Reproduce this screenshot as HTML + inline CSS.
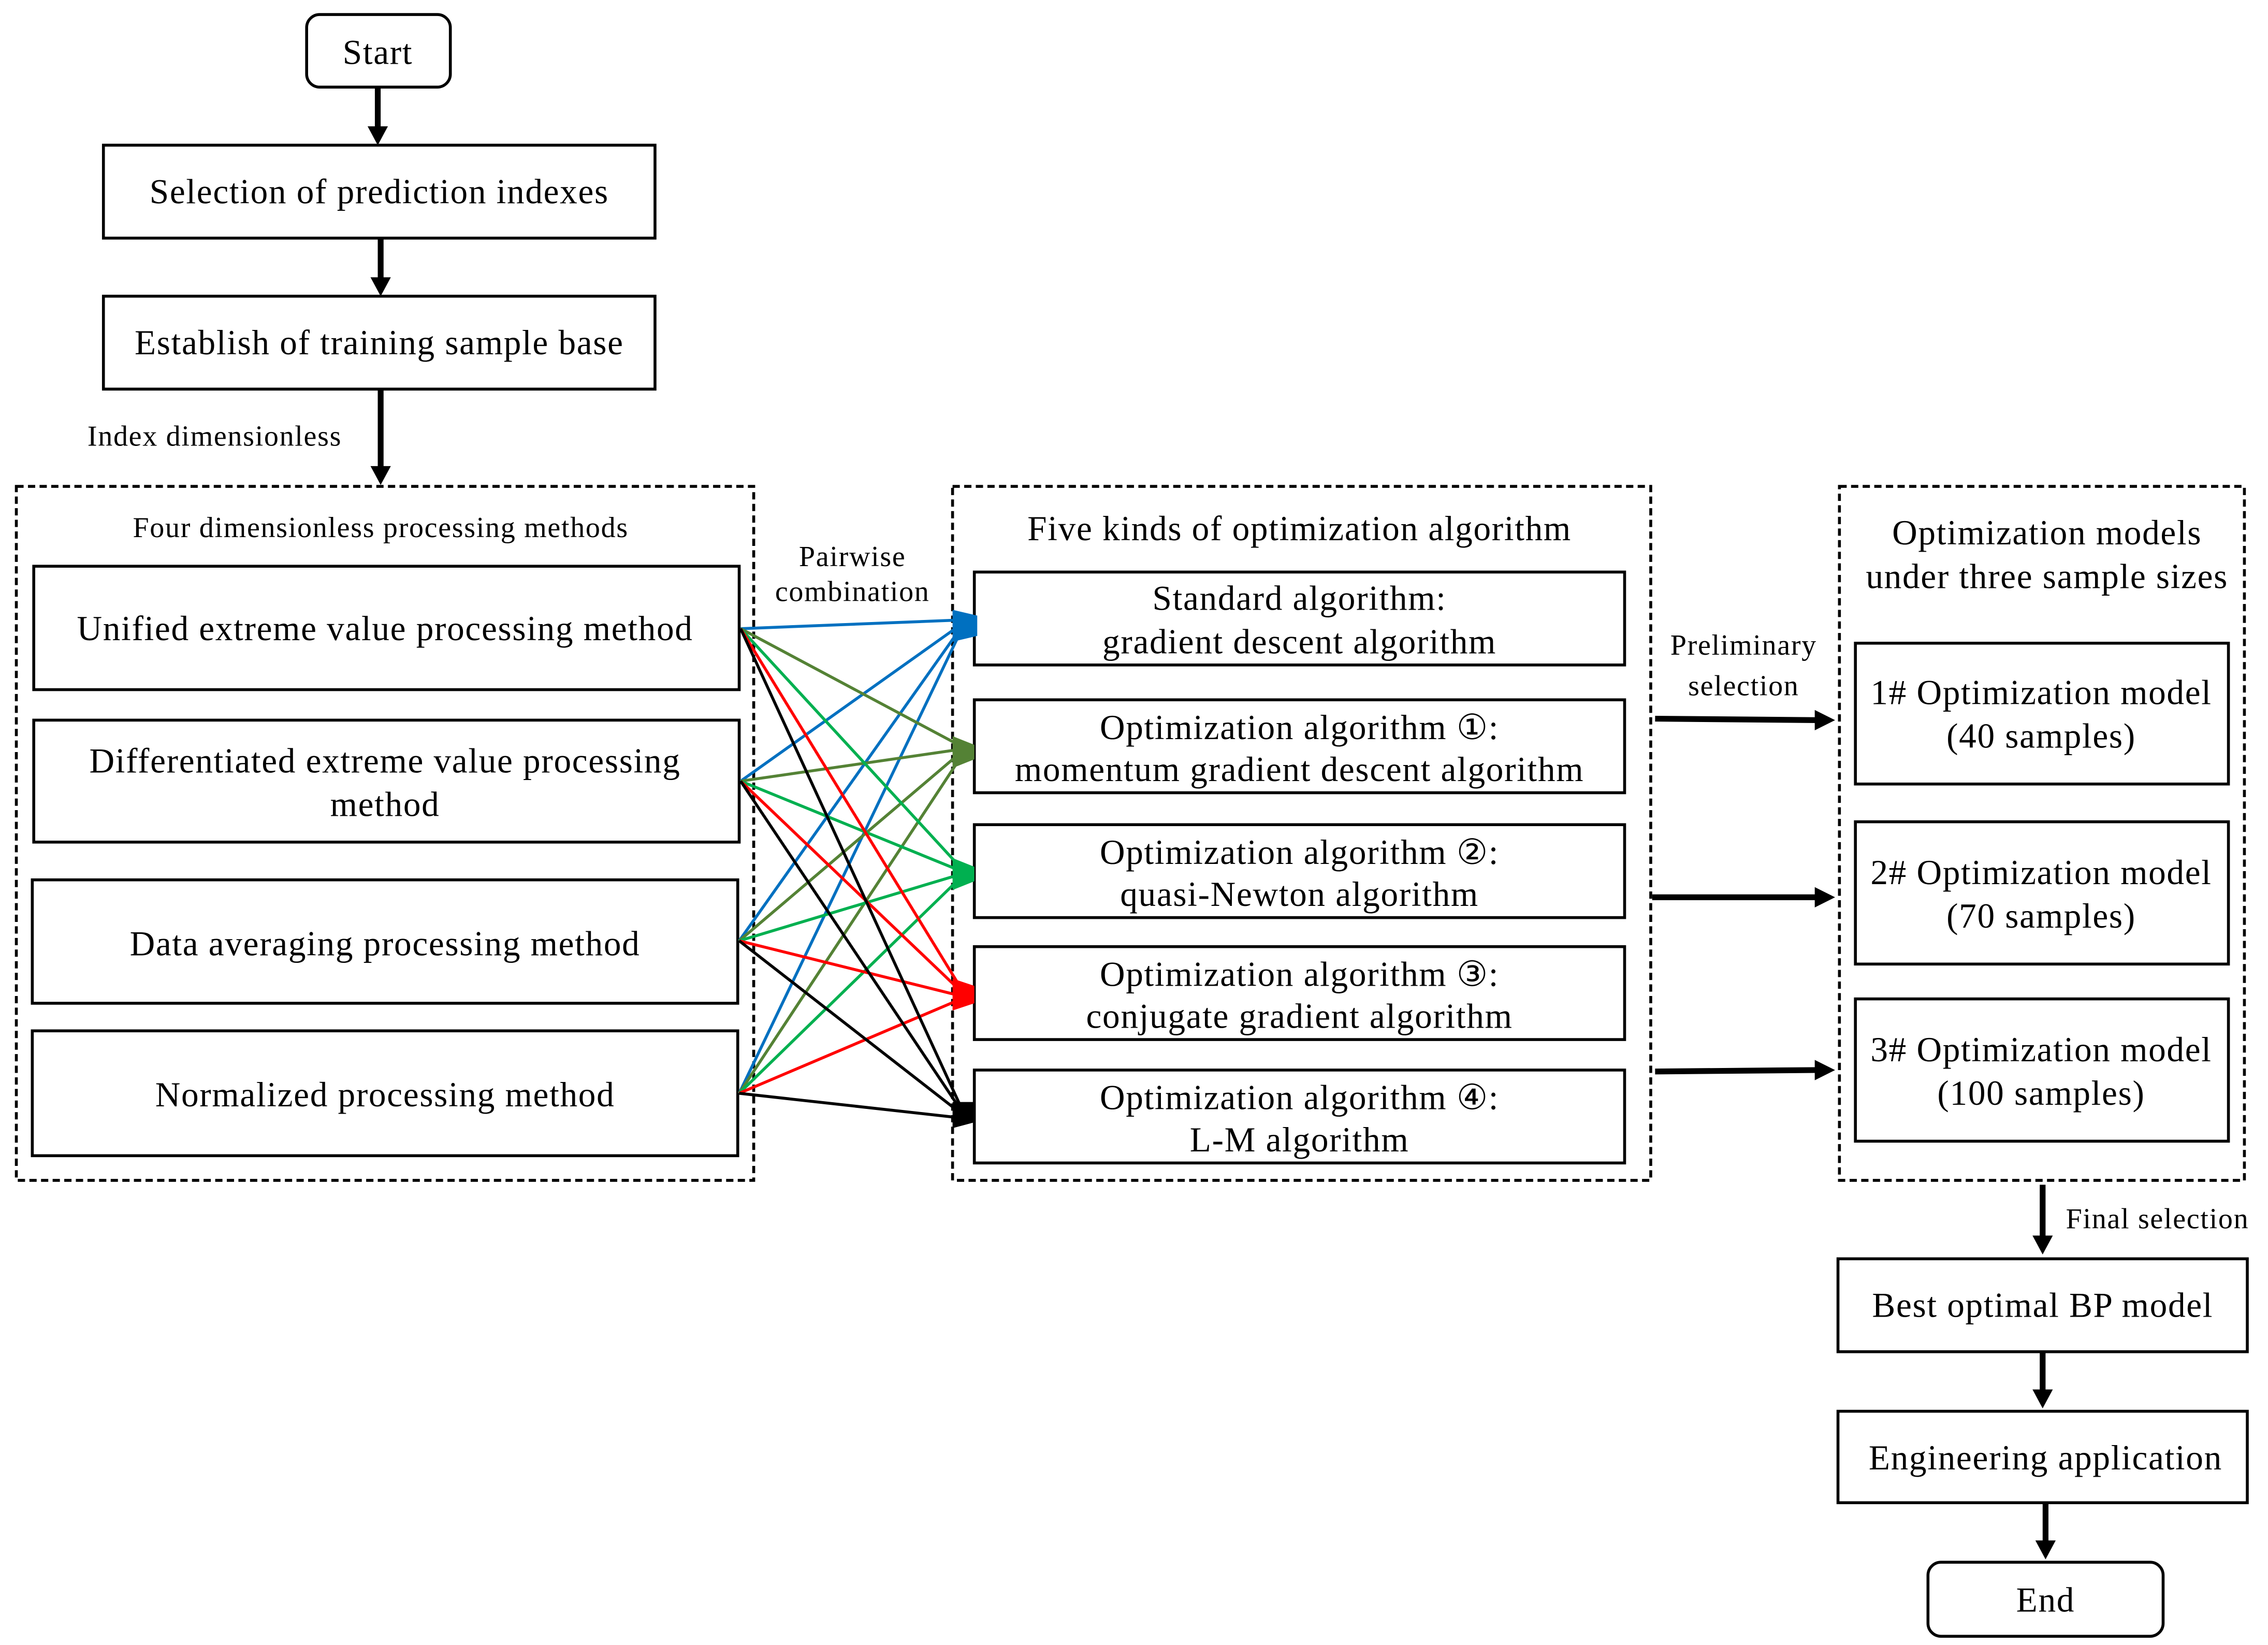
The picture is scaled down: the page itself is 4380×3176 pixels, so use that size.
<!DOCTYPE html>
<html><head><meta charset="utf-8"><style>html,body{margin:0;padding:0;background:#fff}svg{display:block}</style></head>
<body>
<svg xmlns="http://www.w3.org/2000/svg" width="4380" height="3176" viewBox="0 0 1562 1133" font-family="'Liberation Serif', serif">
<g fill="none" stroke="#000" stroke-width="2">
<rect x="211" y="10" width="99" height="50" rx="9"/>
<rect x="71" y="100" width="380" height="64"/>
<rect x="71" y="204" width="380" height="64"/>
<rect x="23" y="390" width="486" height="85"/>
<rect x="23" y="496" width="486" height="84"/>
<rect x="22" y="606" width="486" height="85"/>
<rect x="22" y="710" width="486" height="86"/>
<rect x="671" y="394" width="448" height="64"/>
<rect x="671" y="482" width="448" height="64"/>
<rect x="671" y="568" width="448" height="64"/>
<rect x="671" y="652" width="448" height="64"/>
<rect x="671" y="737" width="448" height="64"/>
<rect x="1278" y="443" width="257" height="97"/>
<rect x="1278" y="566" width="257" height="98"/>
<rect x="1278" y="688" width="257" height="98"/>
<rect x="1266" y="867" width="282" height="64"/>
<rect x="1266" y="972" width="282" height="63"/>
<rect x="1328" y="1076" width="162" height="51" rx="9"/>
</g>
<g fill="none" stroke="#000" stroke-width="2" stroke-dasharray="5,3">
<rect x="11" y="335" width="508" height="478"/>
<rect x="656" y="335" width="481" height="478"/>
<rect x="1267" y="335" width="279" height="478"/>
</g>
<g stroke="#000" stroke-width="4">
<line x1="260" y1="60" x2="260" y2="88"/>
<line x1="262" y1="164" x2="262" y2="192"/>
<line x1="262" y1="268" x2="262" y2="322"/>
<line x1="1140" y1="495" x2="1252" y2="496"/>
<line x1="1138" y1="618" x2="1252" y2="618"/>
<line x1="1140" y1="738" x2="1252" y2="737"/>
<line x1="1407" y1="816" x2="1407" y2="852"/>
<line x1="1407" y1="931" x2="1407" y2="958"/>
<line x1="1409" y1="1035" x2="1409" y2="1062"/>
</g>
<g fill="#000">
<path d="M253,87 L267,87 L260,100 z"/>
<path d="M255,191 L269,191 L262,204 z"/>
<path d="M255,321 L269,321 L262,334 z"/>
<path d="M1250,489 L1264,496 L1250,503 z"/>
<path d="M1250,611 L1264,618 L1250,625 z"/>
<path d="M1250,730 L1264,737 L1250,744 z"/>
<path d="M1400,851 L1414,851 L1407,864 z"/>
<path d="M1400,957 L1414,957 L1407,970 z"/>
<path d="M1402,1061 L1416,1061 L1409,1074 z"/>
</g>
<g stroke-width="2" fill="none">
<g stroke="#0070C0"><line x1="510" y1="433" x2="662" y2="427"/><line x1="510" y1="538" x2="662" y2="430"/><line x1="509" y1="648" x2="662" y2="432"/><line x1="509" y1="753" x2="662" y2="434"/></g>
<g stroke="#548235"><line x1="510" y1="433" x2="662" y2="514"/><line x1="510" y1="538" x2="662" y2="516"/><line x1="509" y1="648" x2="662" y2="518"/><line x1="509" y1="753" x2="662" y2="521"/></g>
<g stroke="#00B050"><line x1="510" y1="433" x2="662" y2="598"/><line x1="510" y1="538" x2="662" y2="600"/><line x1="509" y1="648" x2="662" y2="602"/><line x1="509" y1="753" x2="662" y2="604"/></g>
<g stroke="#FF0000"><line x1="510" y1="433" x2="662" y2="681"/><line x1="510" y1="538" x2="662" y2="683"/><line x1="509" y1="648" x2="662" y2="686"/><line x1="509" y1="753" x2="662" y2="688"/></g>
<g stroke="#000"><line x1="510" y1="433" x2="662" y2="763"/><line x1="510" y1="538" x2="662" y2="765"/><line x1="509" y1="648" x2="662" y2="767"/><line x1="509" y1="753" x2="662" y2="770"/></g>
</g>
<path d="M656,420 L673,424 L673,438 L656,442 z" fill="#0070C0"/>
<path d="M656,507 L671,513 L671,523 L656,529 z" fill="#548235"/>
<path d="M656,591 L671,597 L671,607 L656,613 z" fill="#00B050"/>
<path d="M656,674 L671,679 L671,691 L656,696 z" fill="#FF0000"/>
<path d="M656,759 L671,759 L671,773 L656,777 z" fill="#000"/>
<g font-size="24" text-anchor="middle" fill="#000" letter-spacing="0.6">
<text x="260" y="44">Start</text>
<text x="261" y="140">Selection of prediction indexes</text>
<text x="261" y="244">Establish of training sample base</text>
<text x="265" y="441">Unified extreme value processing method</text>
<text x="265" y="532">Differentiated extreme value processing</text>
<text x="265" y="562">method</text>
<text x="265" y="658">Data averaging processing method</text>
<text x="265" y="762">Normalized processing method</text>
<text x="895" y="372">Five kinds of optimization algorithm</text>
<text x="895" y="420">Standard algorithm:</text>
<text x="895" y="450">gradient descent algorithm</text>
<text x="895" y="509">Optimization algorithm ①:</text>
<text x="895" y="538">momentum gradient descent algorithm</text>
<text x="895" y="595">Optimization algorithm ②:</text>
<text x="895" y="624">quasi-Newton algorithm</text>
<text x="895" y="679">Optimization algorithm ③:</text>
<text x="895" y="708">conjugate gradient algorithm</text>
<text x="895" y="764">Optimization algorithm ④:</text>
<text x="895" y="793">L-M algorithm</text>
<text x="1410" y="375">Optimization models</text>
<text x="1410" y="405">under three sample sizes</text>
<text x="1406" y="485">1# Optimization model</text>
<text x="1406" y="515">(40 samples)</text>
<text x="1406" y="609">2# Optimization model</text>
<text x="1406" y="639">(70 samples)</text>
<text x="1406" y="731">3# Optimization model</text>
<text x="1406" y="761">(100 samples)</text>
<text x="1407" y="907">Best optimal BP model</text>
<text x="1409" y="1012">Engineering application</text>
<text x="1409" y="1110">End</text>
</g>
<g font-size="20" fill="#000" letter-spacing="0.6">
<text x="60" y="307">Index dimensionless</text>
<text x="262" y="370" text-anchor="middle">Four dimensionless processing methods</text>
<text x="587" y="390" text-anchor="middle">Pairwise</text>
<text x="587" y="414" text-anchor="middle">combination</text>
<text x="1201" y="451" text-anchor="middle">Preliminary</text>
<text x="1201" y="479" text-anchor="middle">selection</text>
<text x="1423" y="846">Final selection</text>
</g>
</svg>
</body></html>
